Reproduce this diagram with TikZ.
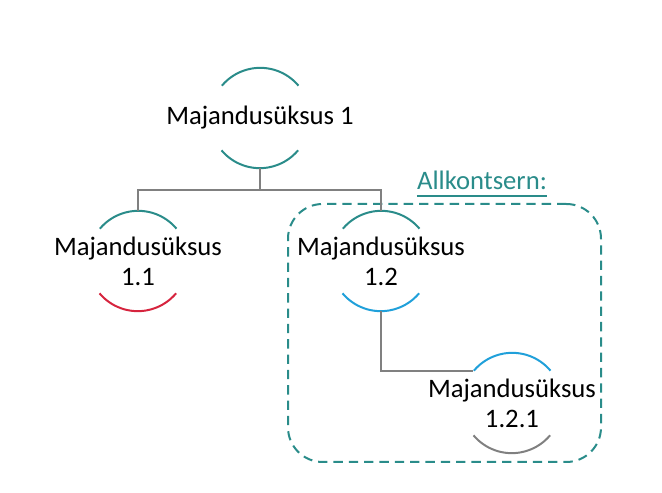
\documentclass[tikz,border=0pt]{standalone}
\usepackage{fontspec}
\setmainfont{Carlito}
\definecolor{sea}{RGB}{42,140,138}
\definecolor{crimsonred}{RGB}{214,36,62}
\definecolor{skyblue}{RGB}{32,160,218}
\definecolor{linkgray}{RGB}{128,128,128}
\begin{document}
\begin{tikzpicture}[x=0.75pt, y=0.75pt,
  unit/.style={shape=circle, minimum size=75pt, inner sep=0pt},
  unittext/.style={font=\fontsize{20}{22.5}\selectfont, align=center},
  halfarc/.style={line width=1.5pt},
  link/.style={draw=linkgray, line width=1.5pt},
  groupbox/.style={draw=sea, line width=1.5pt, dash pattern=on 7pt off 4.5pt, rounded corners=26pt, minimum width=234.75pt, minimum height=193.5pt}]
\useasboundingbox (0,0) rectangle (662,493);
% units
\node[unit, label={[unittext]center:Majandusüksus 1}] (U1) at (260,375) {};
\node[unit, label={[unittext]center:Majandusüksus\\1.1}] (U11) at (138,232) {};
\node[unit, label={[unittext]center:Majandusüksus\\1.2}] (U12) at (381,232) {};
\node[unit, label={[unittext]center:Majandusüksus\\1.2.1}] (U121) at (512,90) {};
% group
\node[groupbox] (G) at (444.5,160) {};
\node[unittext, text=sea, inner xsep=0pt] (allk) at (482,313) {Allkontsern:};
\draw[draw=sea, line width=1.2pt] ([yshift=-5pt]allk.base west) -- ([yshift=-5pt]allk.base east);
% half circles
\draw[halfarc, draw=sea] (U1.40) arc[start angle=40, end angle=140, radius=37.5pt];
\draw[halfarc, draw=sea] (U1.220) arc[start angle=220, end angle=320, radius=37.5pt];
\draw[halfarc, draw=sea] (U11.40) arc[start angle=40, end angle=140, radius=37.5pt];
\draw[halfarc, draw=crimsonred] (U11.220) arc[start angle=220, end angle=320, radius=37.5pt];
\draw[halfarc, draw=sea] (U12.40) arc[start angle=40, end angle=140, radius=37.5pt];
\draw[halfarc, draw=skyblue] (U12.220) arc[start angle=220, end angle=320, radius=37.5pt];
\draw[halfarc, draw=skyblue] (U121.40) arc[start angle=40, end angle=140, radius=37.5pt];
\draw[halfarc, draw=linkgray] (U121.220) arc[start angle=220, end angle=320, radius=37.5pt];
% links
\path[link] (U1.south) -- ++(0,-22) coordinate (split);
\path[link] (U11.north) |- (split) -| (U12.north);
\path[link] (U12.south) |- (U121.140);
\end{tikzpicture}
\end{document}
